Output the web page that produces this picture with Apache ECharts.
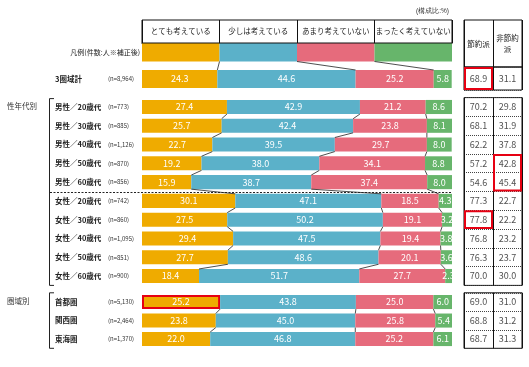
<!DOCTYPE html>
<html><head><meta charset="utf-8">
<script src="https://cdn.jsdelivr.net/npm/echarts@6/dist/echarts.min.js"></script>
<style>html,body{margin:0;padding:0;background:#fff}#c{width:529px;height:367px}</style>
</head><body><div id="c"></div>
<script>
// ---------------- data ----------------
const legendNames = ['とても考えている', '少しは考えている', 'あまり考えていない', 'まったく考えていない'];
const legendCaption = '凡例(件数:人※補正後)';
const legendShare = [25, 25, 25, 25];
const unitNote = '(構成比:%)';
const tableHeads = ['節約派', '非節約派'];
const groupTitles = ['性年代別', '圏域別'];
const rowLabels = ['3圏域計', '男性／20歳代', '男性／30歳代', '男性／40歳代', '男性／50歳代', '男性／60歳代',
  '女性／20歳代', '女性／30歳代', '女性／40歳代', '女性／50歳代', '女性／60歳代', '首都圏', '関西圏', '東海圏'];
const rowN = ['n=8,964', 'n=773', 'n=885', 'n=1,126', 'n=870', 'n=856',
  'n=742', 'n=860', 'n=1,095', 'n=851', 'n=900', 'n=5,130', 'n=2,464', 'n=1,370'];
const veryMuch = [24.3, 27.4, 25.7, 22.7, 19.2, 15.9, 30.1, 27.5, 29.4, 27.7, 18.4, 25.2, 23.8, 22.0];
const somewhat = [44.6, 42.9, 42.4, 39.5, 38.0, 38.7, 47.1, 50.2, 47.5, 48.6, 51.7, 43.8, 45.0, 46.8];
const notMuch = [25.2, 21.2, 23.8, 29.7, 34.1, 37.4, 18.5, 19.1, 19.4, 20.1, 27.7, 25.0, 25.8, 25.2];
const notAtAll = [5.8, 8.6, 8.1, 8.0, 8.8, 8.0, 4.3, 3.2, 3.8, 3.6, 2.3, 6.0, 5.4, 6.1];
const saving = [68.9, 70.2, 68.1, 62.2, 57.2, 54.6, 77.3, 77.8, 76.8, 76.3, 70.0, 69.0, 68.8, 68.7];
const nonSaving = [31.1, 29.8, 31.9, 37.8, 42.8, 45.4, 22.7, 22.2, 23.2, 23.7, 30.0, 31.0, 31.2, 31.3];
const highlightTable = [{row: 0, col: 0, span: 1}, {row: 4, col: 1, span: 2}, {row: 7, col: 0, span: 1}];
const highlightBar = {row: 11, seg: 0};

// ---------------- layout / style ----------------
const FONT = '"Noto Sans CJK JP", "Noto Sans", sans-serif';
const colors = ['#EFAB00', '#5BB1C9', '#E66B7C', '#67B56B'];
const RED = '#E60012';
const BAR_L = 142, BAR_W = 310, TAB_L = 464, TAB_W = 58;
const groups = [
  {rows: [0], top: 39.25, height: 53, withLegend: true, barW: '68%', tTop: 67, tH: 23},
  {rows: [1, 2, 3, 4, 5, 6, 7, 8, 9, 10], top: 97.6, height: 187.8, barW: '75%', tTop: 97.6, tH: 187.8},
  {rows: [11, 12, 13], top: 292.8, height: 55.5, barW: '76%', tTop: 292.8, tH: 55.5}
];
const segs = [veryMuch, somewhat, notMuch, notAtAll];

const grid = [], xAxis = [], yAxis = [], series = [];
const hidden = {show: false};

// legend header boxes
grid.push({left: BAR_L, top: 20, width: BAR_W, height: 23, show: true, borderColor: '#111', borderWidth: 1});
xAxis.push({gridIndex: 0, type: 'category', data: legendNames, axisTick: hidden,
  axisLine: {lineStyle: {color: '#111'}},
  splitLine: {show: true, interval: 0, lineStyle: {color: '#111', width: 1}},
  axisLabel: {inside: true, interval: 0, margin: 11.5, verticalAlign: 'middle', fontSize: 7.5, color: '#222', fontFamily: FONT}});
yAxis.push({gridIndex: 0, type: 'value', show: false});

// table header
grid.push({left: TAB_L, top: 20, width: TAB_W, height: 47, show: true, borderColor: '#111', borderWidth: 1});
xAxis.push({gridIndex: 1, type: 'category', data: tableHeads, axisTick: hidden, axisLine: hidden,
  splitLine: {show: true, interval: 0, lineStyle: {color: '#111', width: 1}},
  axisLabel: {inside: true, interval: 0, margin: 23, verticalAlign: 'middle', align: 'center', width: 26, overflow: 'break',
    fontSize: 7.5, lineHeight: 11, color: '#222', fontFamily: FONT}});
yAxis.push({gridIndex: 1, type: 'value', show: false});

const cum = v => [v[0], v[0] + v[1], v[0] + v[1] + v[2]];

groups.forEach((g, gi) => {
  // ---- bar grid ----
  const bIdx = grid.length;
  grid.push({left: BAR_L, top: g.top, width: BAR_W, height: g.height});
  const cats = (g.withLegend ? ['legend'] : []).concat(g.rows.map(r => 'r' + r));
  xAxis.push({gridIndex: bIdx, type: 'value', min: 0, max: 100, show: false});
  yAxis.push({gridIndex: bIdx, type: 'category', inverse: true, data: cats,
    axisLine: hidden, axisTick: hidden, splitLine: hidden,
    axisLabel: {interval: 0, margin: 4, fontFamily: FONT,
      formatter: (val) => {
        if (val === 'legend') return '{c|' + legendCaption + '}';
        const r = +val.slice(1);
        return '{a|' + rowLabels[r] + '}{b|(' + rowN[r] + ')}';
      },
      rich: {
        a: {width: 53, align: 'left', fontSize: 7.5, fontWeight: 'bold', color: '#222', fontFamily: FONT},
        b: {width: 30, align: 'left', fontSize: 6, color: '#333', fontFamily: FONT},
        c: {fontSize: 7, color: '#222', fontFamily: FONT, padding: [0, -2, 0, 0]}
      }}});
  segs.forEach((arr, k) => {
    const data = [];
    if (g.withLegend) data.push({value: legendShare[k], label: {show: false}});
    g.rows.forEach(r => {
      const item = {value: arr[r]};
      if (r === highlightBar.row && k === highlightBar.seg) item.itemStyle = {borderColor: RED, borderWidth: 2};
      data.push(item);
    });
    series.push({type: 'bar', xAxisIndex: bIdx, yAxisIndex: bIdx, stack: 's' + gi, barWidth: g.barW,
      data, itemStyle: {color: colors[k]},
      label: {show: true, position: 'inside', color: '#fff', fontSize: 9, fontFamily: FONT,
        formatter: p => p.value.toFixed(1)}});
  });
  // connectors
  const rowsVals = (g.withLegend ? [legendShare] : []).concat(g.rows.map(r => segs.map(s => s[r])));
  const conn = [];
  for (let i = 0; i < rowsVals.length - 1; i++) {
    const a = cum(rowsVals[i]), b = cum(rowsVals[i + 1]);
    for (let k = 0; k < 3; k++) conn.push([a[k], i, b[k], i + 1]);
  }
  const ratio = parseFloat(g.barW) / 100;
  series.push({type: 'custom', xAxisIndex: bIdx, yAxisIndex: bIdx, data: conn, encode: {x: [0, 2], y: [1, 3]},
    silent: true, z: 5,
    renderItem: (params, api) => {
      const p1 = api.coord([api.value(0), api.value(1)]);
      const p2 = api.coord([api.value(2), api.value(3)]);
      const half = api.size([0, 1])[1] * ratio / 2;
      return {type: 'line', shape: {x1: p1[0], y1: p1[1] + half, x2: p2[0], y2: p2[1] - half},
        style: {stroke: '#222', lineWidth: 0.8}};
    }});

  // ---- table grid ----
  const tIdx = grid.length;
  grid.push({left: TAB_L, top: g.tTop, width: TAB_W, height: g.tH, show: true, borderColor: '#111', borderWidth: 1});
  xAxis.push({gridIndex: tIdx, type: 'category', data: tableHeads, axisLabel: hidden, axisTick: hidden, axisLine: hidden,
    splitLine: {show: true, interval: 0, lineStyle: {color: '#111', width: 1}}});
  yAxis.push({gridIndex: tIdx, type: 'category', inverse: true, data: g.rows.map(r => 'r' + r),
    axisLabel: hidden, axisTick: hidden, axisLine: hidden,
    splitLine: {show: true, interval: 0, lineStyle: {color: '#444', width: 1, type: [1, 1]}}});
  const tdata = [];
  g.rows.forEach((r, i) => { tdata.push([0, i, saving[r]]); tdata.push([1, i, nonSaving[r]]); });
  series.push({type: 'scatter', xAxisIndex: tIdx, yAxisIndex: tIdx, data: tdata, symbolSize: 1,
    itemStyle: {color: 'rgba(0,0,0,0)'}, silent: true,
    label: {show: true, position: 'inside', color: '#222', fontSize: 9, fontFamily: FONT,
      formatter: p => p.value[2].toFixed(1)}});
  const hl = highlightTable.filter(h => g.rows.includes(h.row)).map(h => [h.col, g.rows.indexOf(h.row), h.span]);
  if (hl.length) {
    series.push({type: 'custom', xAxisIndex: tIdx, yAxisIndex: tIdx, data: hl, encode: {x: 0, y: 1}, z: 10, silent: true,
      renderItem: (params, api) => {
        const p = api.coord([api.value(0), api.value(1)]);
        const s = api.size([1, 1]);
        return {type: 'rect', shape: {x: p[0] - s[0] / 2 + 1, y: p[1] - s[1] / 2 + 1, width: s[0] - 2, height: s[1] * api.value(2) - 2},
          style: {fill: 'none', stroke: RED, lineWidth: 2}};
      }});
  }
});

// decorations
const gC = groups[1], gD = groups[2];
const rowH = gC.height / gC.rows.length;
const sepY = Math.round(gC.top + rowH * 5) + 0.5;
const graphic = [
  {type: 'text', right: 529 - 449, top: 8, style: {text: unitNote, fontSize: 6.5, fill: '#333', font: '6.5px ' + FONT}},
  {type: 'text', left: 7, top: gC.top + rowH / 2 - 5, style: {text: groupTitles[0], fill: '#333', font: '7.5px ' + FONT}},
  {type: 'text', left: 7, top: gD.top + gD.height / 6 - 5, style: {text: groupTitles[1], fill: '#333', font: '7.5px ' + FONT}},
  {type: 'polyline', shape: {points: [[54, gC.top + 1], [49.5, gC.top + 1], [49.5, gC.top + gC.height], [54, gC.top + gC.height]]},
    style: {stroke: '#222', lineWidth: 1, fill: 'none'}},
  {type: 'polyline', shape: {points: [[54, gD.top], [49.5, gD.top], [49.5, gD.top + gD.height], [54, gD.top + gD.height]]},
    style: {stroke: '#222', lineWidth: 1, fill: 'none'}},
  {type: 'line', shape: {x1: 50, y1: sepY, x2: 452, y2: sepY}, style: {stroke: '#222', lineWidth: 1, lineDash: [2, 1.5]}}
];

const chart = echarts.init(document.getElementById('c'), null, {renderer: 'canvas'});
chart.setOption({
  animation: false,
  backgroundColor: '#fff',
  textStyle: {fontFamily: FONT},
  grid, xAxis, yAxis, series, graphic
});
</script></body></html>
